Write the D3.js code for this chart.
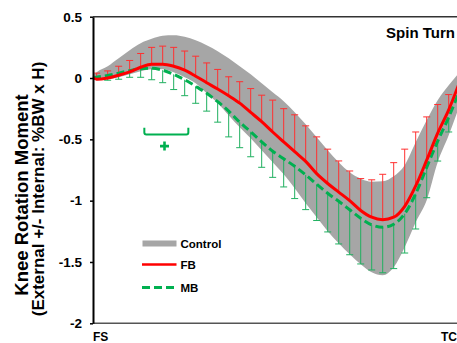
<!DOCTYPE html>
<html><head><meta charset="utf-8">
<script src="https://cdn.jsdelivr.net/npm/d3@7"></script>
<style>
html,body{margin:0;padding:0;background:#fff;}
svg{display:block;}
text{font-family:"Liberation Sans",Arial,sans-serif;font-weight:bold;fill:#000;}
</style></head>
<body><svg id="chart" width="457" height="343"></svg>
<script>
// % of stance: FS, error-bar samples, TC
const pct = [0,1,4,7,10,13,16,19,22,25,28,31,34,37,40,43,46,49,52,55,58,61,64,67,70,73,76,79,82,85,88,91,94,97,100];
const controlMean = [0.007,0.015,0.043,0.084,0.129,0.17,0.196,0.208,0.198,0.172,0.133,0.072,0.007,-0.071,-0.153,-0.23,-0.316,-0.401,-0.487,-0.589,-0.699,-0.809,-0.919,-1.017,-1.103,-1.17,-1.215,-1.225,-1.172,-1.046,-0.85,-0.67,-0.434,-0.263,-0.087];
const controlSD = [0.016,0.033,0.053,0.077,0.098,0.114,0.124,0.137,0.151,0.165,0.175,0.196,0.212,0.232,0.249,0.261,0.273,0.285,0.298,0.31,0.322,0.326,0.33,0.33,0.334,0.349,0.369,0.383,0.371,0.334,0.326,0.326,0.253,0.204,0.135];
const fbMean = [0.005,-0.01,0.0,0.023,0.05,0.088,0.113,0.113,0.096,0.064,0.015,-0.038,-0.09,-0.145,-0.205,-0.28,-0.356,-0.44,-0.52,-0.6,-0.68,-0.78,-0.86,-0.93,-1.0,-1.08,-1.135,-1.155,-1.135,-1.046,-0.88,-0.67,-0.45,-0.26,-0.03];
const mbMean = [0.0,0.006,0.02,0.04,0.06,0.076,0.08,0.064,0.03,-0.014,-0.067,-0.124,-0.193,-0.27,-0.36,-0.438,-0.52,-0.597,-0.658,-0.72,-0.79,-0.866,-0.94,-1.005,-1.074,-1.144,-1.197,-1.217,-1.192,-1.107,-0.944,-0.728,-0.515,-0.32,-0.1];
// SD at the error-bar samples (pct 1..97)
const fbSD = [0.05,0.058,0.073,0.093,0.112,0.137,0.147,0.154,0.156,0.163,0.161,0.16,0.155,0.175,0.194,0.216,0.26,0.27,0.3,0.29,0.3,0.28,0.254,0.242,0.26,0.305,0.37,0.445,0.466,0.44,0.353,0.234,0.125];
const mbSD = [0.016,0.038,0.05,0.054,0.07,0.094,0.102,0.124,0.13,0.139,0.146,0.167,0.21,0.208,0.204,0.208,0.213,0.23,0.263,0.283,0.296,0.315,0.348,0.367,0.372,0.368,0.371,0.362,0.32,0.287,0.248,0.162,0.12];
const yTicks = [0.5,0,-0.5,-1,-1.5,-2];
const yTickLabels = ["0.5","0","-0.5","-1","-1.5","-2"];
const xLabels = ["FS","TC"];
const legendLabels = ["Control","FB","MB"];
const title = "Spin Turn";
const yTitle = ["Knee Rotation Moment","(External +/- Internal: %BW x H)"];
// significance bracket (pct range, value levels)
const bracketPct = [14,26];
const bracketVal = [-0.405,-0.46];
const plusPos = [19.5,-0.555];

const svg = d3.select("#chart");
const x = d3.scaleLinear().domain([0,100]).range([93,459.7]);
const y = d3.scaleLinear().domain([-2,0.5]).range([323.3,16.7]);

const RED="#ff0000", GREEN="#00b050", GRAY="#a6a6a6";

// control band
const band = d3.area().x((d,i)=>x(pct[i])).y0((d,i)=>y(controlMean[i]-controlSD[i])).y1((d,i)=>y(controlMean[i]+controlSD[i])).curve(d3.curveMonotoneX);
svg.append("path").attr("d",band(pct)).attr("fill",GRAY);

// error bars
const barIdx = d3.range(1,pct.length-1);
const eb = svg.append("g");
barIdx.forEach((i,k)=>{
  const xx = x(pct[i]);
  const t = y(fbMean[i]+fbSD[k]);
  eb.append("line").attr("x1",xx).attr("x2",xx).attr("y1",y(fbMean[i])).attr("y2",t).attr("stroke","#ff3030").attr("stroke-width",1);
  eb.append("line").attr("x1",xx-3.5).attr("x2",xx+3.5).attr("y1",t).attr("y2",t).attr("stroke","#ff3030").attr("stroke-width",1);
  const b = y(mbMean[i]-mbSD[k]);
  eb.append("line").attr("x1",xx).attr("x2",xx).attr("y1",y(mbMean[i])).attr("y2",b).attr("stroke","#20b060").attr("stroke-width",1);
  eb.append("line").attr("x1",xx-3.5).attr("x2",xx+3.5).attr("y1",b).attr("y2",b).attr("stroke","#20b060").attr("stroke-width",1);
});

const line = arr => d3.line().x((d,i)=>x(pct[i])).y((d,i)=>y(arr[i])).curve(d3.curveMonotoneX)(pct);
svg.append("path").attr("d",line(mbMean)).attr("fill","none").attr("stroke",GREEN).attr("stroke-width",3).attr("stroke-dasharray","8,4");
svg.append("path").attr("d",line(fbMean)).attr("fill","none").attr("stroke",RED).attr("stroke-width",3);

// frame lines
svg.append("line").attr("x1",93).attr("x2",457).attr("y1",y(0.5)).attr("y2",y(0.5)).attr("stroke","#333").attr("stroke-width",1.5);
svg.append("line").attr("x1",93).attr("x2",457).attr("y1",y(-2)).attr("y2",y(-2)).attr("stroke","#555").attr("stroke-width",1.5);

// y axis
const ya = d3.axisLeft(y).tickValues(yTicks).tickFormat((d,i)=>yTickLabels[i]).tickSize(3).tickPadding(8).tickSizeOuter(0);
const yg = svg.append("g").attr("transform","translate(93,0)").call(ya);
yg.select(".domain").attr("stroke","#000").attr("stroke-width",2);
yg.selectAll(".tick line").attr("stroke","#000").attr("stroke-width",1.5);
yg.selectAll(".tick text").style("font-size","13.5px").style("font-family","'Liberation Sans',Arial,sans-serif").style("font-weight","bold").attr("fill","#000");

// x labels
svg.append("text").attr("x",x(0)).attr("y",341).style("font-size","12px").text(xLabels[0]);
svg.append("text").attr("x",457).attr("y",341).attr("text-anchor","end").style("font-size","12px").text(xLabels[1]);

// title
svg.append("text").attr("x",455).attr("y",37.5).attr("text-anchor","end").style("font-size","15px").text(title);

// y title
svg.append("text").attr("transform","translate(28,195) rotate(-90)").attr("text-anchor","middle").style("font-size","18.5px").text(yTitle[0]);
svg.append("text").attr("transform","translate(44,189) rotate(-90)").attr("text-anchor","middle").style("font-size","17px").text(yTitle[1]);

// bracket + plus
const bx0=x(bracketPct[0]), bx1=x(bracketPct[1]), by0=y(bracketVal[0]), by1=y(bracketVal[1]);
svg.append("path").attr("d",`M${bx0},${by0}V${by1-2}Q${bx0},${by1} ${bx0+2},${by1}H${bx1-2}Q${bx1},${by1} ${bx1},${by1-2}V${by0}`).attr("fill","none").attr("stroke",GREEN).attr("stroke-width",2);
const px=x(plusPos[0]), py=y(plusPos[1]);
svg.append("path").attr("d",`M${px-4.5},${py}H${px+4.5}M${px},${py-4.5}V${py+4.5}`).attr("stroke",GREEN).attr("stroke-width",2.6).attr("fill","none");

// legend
const lg = svg.append("g");
lg.append("rect").attr("x",142.5).attr("y",240.5).attr("width",34).attr("height",6).attr("fill",GRAY);
lg.append("line").attr("x1",142).attr("x2",176.5).attr("y1",264.5).attr("y2",264.5).attr("stroke",RED).attr("stroke-width",2.5);
lg.append("line").attr("x1",142).attr("x2",176.5).attr("y1",287.5).attr("y2",287.5).attr("stroke",GREEN).attr("stroke-width",3).attr("stroke-dasharray","8,4");
[243.5,264.5,287.5].forEach((yy,i)=>{
  lg.append("text").attr("x",180.5).attr("y",yy).attr("dominant-baseline","central").style("font-size","11.5px").text(legendLabels[i]);
});
</script></body></html>
